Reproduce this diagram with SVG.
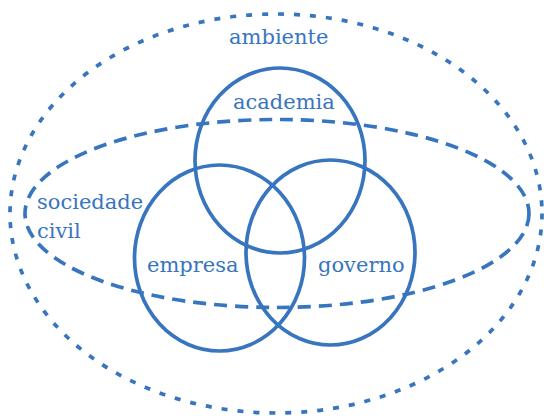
<svg xmlns="http://www.w3.org/2000/svg" width="544" height="416" viewBox="0 0 544 416">
  <style>
    .ln { fill: none; stroke: #3875BF; stroke-width: 3.7; }
    .dot { stroke-dasharray: 6 10; }
    .dash { stroke-dasharray: 13 8; }
    .lbl { font-family: "DejaVu Serif", "Liberation Serif", serif; font-size: 21px; fill: #3875BF; }
  </style>
  <rect width="544" height="416" fill="#ffffff"/>
  <g id="ambiente">
    <ellipse class="ln dot" cx="276" cy="213.5" rx="266" ry="199.5"/>
    <text class="lbl" x="229" y="44">ambiente</text>
  </g>
  <g id="sociedade-civil">
    <ellipse class="ln dash" cx="277" cy="213.5" rx="252" ry="94"/>
    <text class="lbl" x="37" y="209">sociedade</text>
    <text class="lbl" x="37" y="238">civil</text>
  </g>
  <g id="academia">
    <ellipse class="ln" cx="280" cy="160.5" rx="85" ry="92.5"/>
    <text class="lbl" x="233" y="109">academia</text>
  </g>
  <g id="empresa">
    <ellipse class="ln" cx="219.5" cy="258" rx="85" ry="93"/>
    <text class="lbl" x="147" y="272">empresa</text>
  </g>
  <g id="governo">
    <ellipse class="ln" cx="330.5" cy="252.5" rx="84.5" ry="92.5"/>
    <text class="lbl" x="318" y="272">governo</text>
  </g>
  <g id="connectors"></g>
</svg>
